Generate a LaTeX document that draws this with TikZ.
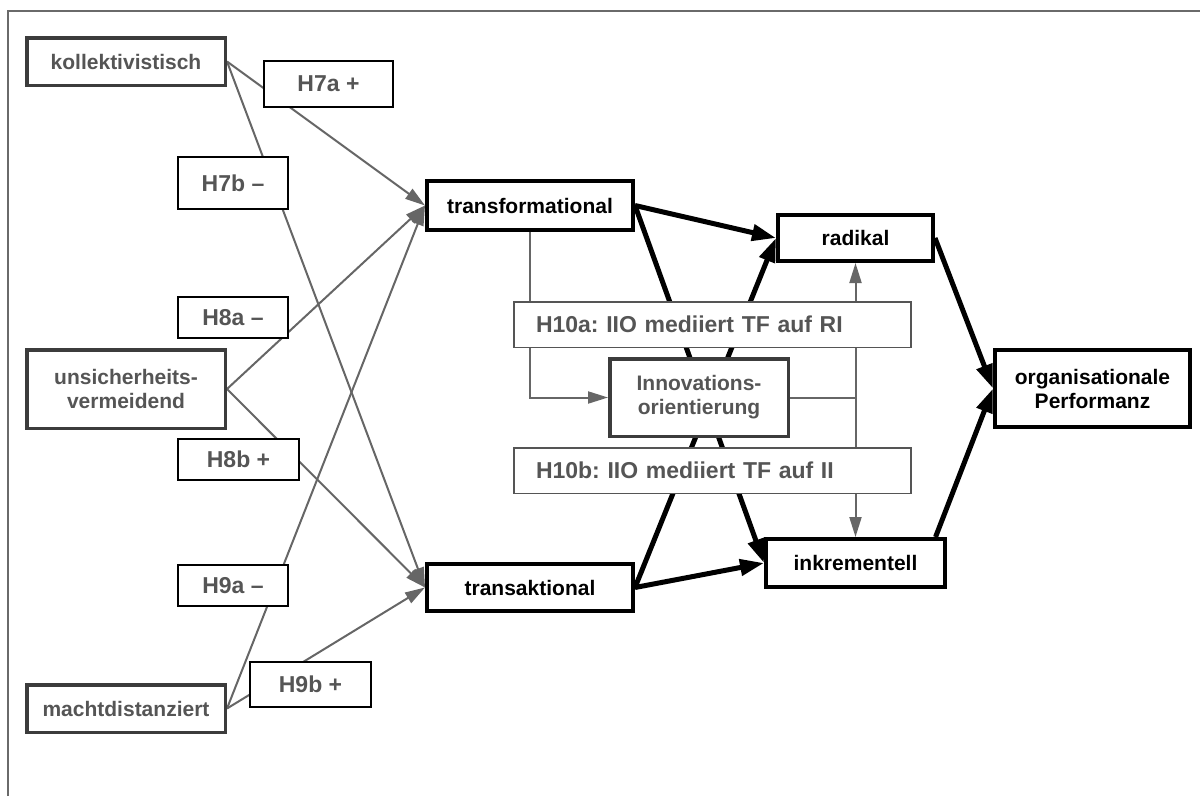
\documentclass[tikz,border=0pt]{standalone}
\usepackage{fontspec}
\setmainfont{Liberation Sans}
\usetikzlibrary{arrows.meta,backgrounds}
\frenchspacing
\definecolor{framegray}{HTML}{6A6A6A}
\definecolor{linegray}{HTML}{666666}
\definecolor{labelgray}{HTML}{555555}
\definecolor{edgegray}{HTML}{3C3C3C}
\tikzset{
  box/.style={draw, fill=white, inner sep=0pt, align=center,
    font=\bfseries\fontsize{21}{24}\selectfont},
  mainbox/.style={box, draw=black, line width=4pt, text=black},
  sourcebox/.style={box, draw=edgegray, line width=3.5pt, text=labelgray},
  hypbox/.style={box, draw=black, line width=1.6pt, text=labelgray,
    font=\bfseries\fontsize{23}{26}\selectfont},
  medbox/.style={box, draw=labelgray, line width=1.5pt, text=labelgray,
    font=\bfseries\fontsize{23}{26}\selectfont, align=left,
    inner xsep=22pt, text width=353pt, minimum height=45.5pt},
  grayarrow/.style={draw=linegray, line width=2pt,
    -{Triangle[length=20pt,width=12pt]}},
  blackarrow/.style={draw=black, line width=5pt,
    -{Triangle[length=24pt,width=16pt]}},
  framestyle/.style={draw=framegray, line width=2.5pt},
}
\begin{document}
\begin{tikzpicture}[x=1pt, y=-1pt]
\useasboundingbox (0,0) rectangle (1200,796);

% cultural dimensions (left column)
\node[sourcebox, minimum width=198.5pt, minimum height=47.5pt] (koll) at (126,61.5) {kollektivistisch};
\node[sourcebox, minimum width=198.5pt, minimum height=78.5pt] (unsich) at (126,389) {unsicherheits-\\vermeidend};
\node[sourcebox, minimum width=198.5pt, minimum height=47.5pt] (macht) at (126,708.5) {machtdistanziert};

% hypothesis labels
\node[hypbox, minimum width=129.4pt, minimum height=46.4pt] (h7a) at (328.5,84) {H7a +};
\node[hypbox, minimum width=110.4pt, minimum height=52.4pt] (h7b) at (233,183) {H7b –};
\node[hypbox, minimum width=110.4pt, minimum height=41.4pt] (h8a) at (233,317.5) {H8a –};
\node[hypbox, minimum width=121.4pt, minimum height=41.4pt] (h8b) at (238.5,459.5) {H8b +};
\node[hypbox, minimum width=110.4pt, minimum height=41.4pt] (h9a) at (233,585.5) {H9a –};
\node[hypbox, minimum width=121.4pt, minimum height=45.4pt] (h9b) at (310.5,684.5) {H9b +};

% leadership styles
\node[mainbox, minimum width=206pt, minimum height=49pt] (tf) at (530,205.5) {transformational};
\node[mainbox, minimum width=206pt, minimum height=47pt] (ta) at (530,587.5) {transaktional};

% innovation types and performance
\node[mainbox, minimum width=155pt, minimum height=46pt] (rad) at (855.5,238) {radikal};
\node[mainbox, minimum width=179pt, minimum height=48pt] (ink) at (855.5,563) {inkrementell};
\node[mainbox, minimum width=195pt, minimum height=77pt] (perf) at (1092.5,388.5) {organisationale\\Performanz};

% mediator and mediation hypotheses
\node[sourcebox, minimum width=178.5pt, minimum height=77.5pt] (inno) at (699,397.5) {Innovations-\\orientierung};
\node[medbox] (h10a) at (712.5,324.5) {H10a: IIO mediiert TF auf RI};
\node[medbox] (h10b) at (712.5,470.5) {H10b: IIO mediiert TF auf II};

\begin{pgfonlayer}{background}
  % open frame
  \draw[framestyle] (8,796) -- (8,11) -- (1200,11);
  % culture -> leadership
  \draw[grayarrow] (koll.east) -- (tf.west);
  \draw[grayarrow] (koll.east) -- (ta.west);
  \draw[grayarrow] (unsich.east) -- (tf.west);
  \draw[grayarrow] (unsich.east) -- (ta.west);
  \draw[grayarrow] (macht.east) -- (tf.west);
  \draw[grayarrow] (macht.east) -- (ta.west);
  % mediation paths
  \draw[grayarrow] (tf.south) |- (inno.west);
  \draw[grayarrow] (inno.east) -| (rad.south);
  \draw[grayarrow] (inno.east) -| (ink.north);
  % leadership -> innovation -> performance
  \draw[blackarrow] (tf.east) -- (rad.west);
  \draw[blackarrow] (tf.east) -- (ink.west);
  \draw[blackarrow] (ta.east) -- (rad.west);
  \draw[blackarrow] (ta.east) -- (ink.west);
  \draw[blackarrow] (rad.east) -- (perf.west);
  \draw[blackarrow] (ink.18) -- (perf.west);
\end{pgfonlayer}
\end{tikzpicture}
\end{document}
